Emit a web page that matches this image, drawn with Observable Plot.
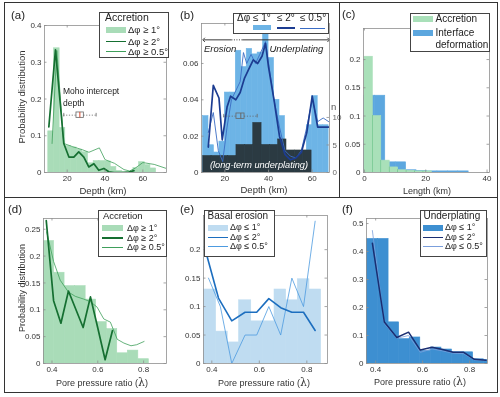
<!DOCTYPE html>
<html><head><meta charset="utf-8">
<script src="https://cdn.jsdelivr.net/npm/d3@7"></script>
<script src="https://cdn.jsdelivr.net/npm/@observablehq/plot@0.6"></script>
<style>
html,body{margin:0;padding:0;background:#fff;}
#fig{position:relative;width:500px;height:397px;overflow:hidden;background:#fff;font-family:"Liberation Sans",Arial,Helvetica,sans-serif;color:#222;}
#fig svg{position:absolute;}
.t{position:absolute;white-space:nowrap;}
.box{position:absolute;background:#fff;border:1px solid #444;box-sizing:border-box;}
.sw{position:absolute;}
</style></head><body><div id="fig"></div>
<script>
// ================= DATA =================
// (a) Accretion: probability distribution vs depth (km)
const aEdges = [10,13,16,19,22,25,28,31,34,37,40,43,46,49,52,55,58,61,64,67,70];
const aHist  = [0.112,0.338,0.121,0.072,0.068,0.062,0.055,0.025,0.031,0.031,0.030,0.015,0.004,0.002,0.002,0.012,0.028,0.020,0.011,0.000];
const aThickX = [10.3,13.8,18.2,20.9,23.5,26.1,28.8,31.4,34.1,36.7,39.4,42,44.7,47.3,50,52.6,55.3];
const aThickY = [0.124,0.334,0.079,0.042,0.042,0.056,0.042,0.015,0.024,0.006,0.011,0.002,0,0,0,0.001,0.005];
const aThinX = [12,14.5,18.2,23,28,31.5,37,40,45,50,53,56,60,66,73];
const aThinY = [0.079,0.332,0.079,0.070,0.062,0.055,0.067,0.035,0.025,0.008,0.004,0.012,0.027,0.022,0.010];
const aMoho = [18.2,24.9,26.7,28.8,35.3];   // min, q1, median, q3, max (km)
const aMohoLevel = 0.156;
const aXTicks = [20,40,60];
const aYTicks = [0,0.1,0.2,0.3,0.4];

// (b) Basal erosion / underplating vs depth
const bEdges = [10,12.5,15,17.5,20,22.5,25,27.5,30,32.5,35,37.5,40,42.5,45,47.5,50,52.5,55,57.5,60,62.5,65,67.5];
const bHist  = [0.031,0.015,0.011,0.017,0.044,0.044,0.067,0.058,0.068,0.065,0.066,0.079,0.063,0.040,0.031,0.009,0.010,0.007,0.012,0.026,0.042,0.026,0.026];
const bNEdges = [10.1,13.9,17.7,21.5,25.3,29.2,33.0,36.8,40.6,44.4,48.2,52.0,55.9,59.7];
const bN      = [3,3,3,3,5,5,9,5,5,6,4,4,4];
const bThickX = [12.4,14.7,17.3,18.8,21,22.6,25,27,29,31,33,35,37,38.6,40,42.5,45,47.5,50,52.5,55,57.5,60,62.5,65,67.5];
const bThickY = [0.014,0.048,0.041,0.018,0.036,0.042,0.040,0.044,0.052,0.057,0.062,0.060,0.064,0.071,0.058,0.040,0.020,0.010,0.007,0.008,0.011,0.022,0.042,0.025,0.025,0.025];
const bThinX = [12.4,14.7,17,19,21,23,25,27,28.5,30,32,34,36,38.6,40,42.5,45,47.5,50,52.5,55,57.5,60,62.5,65,67.5];
const bThinY = [0.022,0.033,0.012,0.006,0.025,0.040,0.045,0.050,0.066,0.060,0.065,0.060,0.065,0.072,0.060,0.040,0.025,0.012,0.009,0.008,0.012,0.025,0.040,0.028,0.030,0.028];
const bMoho = [19.5,25.3,27.3,29.0,34.8];
const bMohoLevel = 0.031;
const bArrow = {start:10.3, dotFrom:23, dotTo:28, end:67.5, level:0.073};
const bXTicks = [20,40,60];
const bYTicks = [0,0.02,0.04,0.06];
const bNTicks = [0,5,10];

// (c) Length distributions
const cGreenEdges = [0,2.75,5.5,8.25,11,13.75,16.5,19.25,22];
const cGreen      = [0.205,0.100,0.021,0.009,0.004,0.003,0.002,0.002];
const cBlueEdges  = [0,3.4,6.8,10.2,13.6,17,20.4,23.8,27.2,30.6,34];
const cBlue       = [0.136,0.136,0.018,0.018,0.004,0.003,0.002,0.002,0.002,0.002];
const cXTicks = [0,20,40];
const cYTicks = [0,0.05,0.1,0.15,0.2];

// (d) Accretion vs pore pressure ratio
const dEdges = [0.363,0.409,0.455,0.501,0.547,0.593,0.639,0.685,0.731,0.777,0.823];
const dHist  = [0.228,0.169,0.144,0.144,0.119,0.077,0.064,0.019,0.024,0.008];
const dThickX = [0.375,0.407,0.439,0.472,0.504,0.536,0.568,0.600,0.632,0.664];
const dThickY = [0.266,0.117,0.075,0.135,0.101,0.067,0.124,0.066,0.007,0.061];
const dThinX = [0.377,0.407,0.436,0.472,0.502,0.538,0.568,0.597,0.626,0.655,0.685,0.714,0.745,0.770,0.802];
const dThinY = [0.245,0.190,0.155,0.133,0.125,0.120,0.115,0.105,0.083,0.077,0.045,0.038,0.033,0.035,0.041];
const dYTicks = [0,0.05,0.1,0.15,0.2,0.25];

// (e) Basal erosion vs pore pressure ratio
const eEdges = [0.365,0.418,0.467,0.515,0.566,0.615,0.664,0.713,0.762,0.811,0.860];
const eHist  = [0.130,0.056,0.037,0.111,0.074,0.074,0.130,0.111,0.148,0.130];
const eThickX = [0.369,0.428,0.484,0.540,0.589,0.640,0.690,0.737,0.786,0.835];
const eThickY = [0.205,0.115,0.075,0.090,0.090,0.114,0.098,0.090,0.090,0.058];
const eThinX = [0.386,0.436,0.484,0.540,0.589,0.640,0.690,0.737,0.786,0.835];
const eThinY = [0.150,0.100,0.000,0.050,0.050,0.100,0.050,0.150,0.100,0.250];
const eYTicks = [0,0.05,0.1,0.15,0.2];

// (f) Underplating vs pore pressure ratio
const fEdges = [0.361,0.41,0.455,0.5,0.545,0.59,0.635,0.68,0.725,0.77,0.815,0.86,0.905];
const fHist  = [0.445,0.445,0.147,0.087,0.093,0.045,0.057,0.050,0.040,0.040,0.015,0.012];
const fThickX = [0.386,0.437,0.490,0.540,0.590,0.640,0.685,0.730,0.775,0.820,0.870];
const fThickY = [0.430,0.148,0.093,0.112,0.048,0.058,0.050,0.040,0.040,0.015,0.012];
const fThinX = [0.386,0.437,0.490,0.540,0.590,0.640,0.685,0.730,0.775,0.820,0.870];
const fThinY = [0.475,0.143,0.090,0.100,0.040,0.052,0.045,0.037,0.035,0.013,0.010];
const fYTicks = [0,0.1,0.2,0.3,0.4,0.5];
const lamTicks = [0.4,0.6,0.8];

// ================= STYLE =================
const FONT = '"Liberation Sans", Arial, Helvetica, sans-serif';
const AX = "#8f8f8f";
const C = {
  gBar:"#a9dcb8", gDark:"#156f31", gThin:"#3f9f5b",
  bBar:"#6db4e6", bDark:"#2b3a42", bNavy:"#1c3c91", bThin:"#3a6cc4",
  cBlue:"#5ca7df", cGreen:"#a9e0b9",
  eBar:"#bfdcf1", eThick:"#1c6ebf", eThin:"#4d9be0",
  fBar:"#3d8fd1", fThick:"#1a2e72", fThin:"#7b9fdc"
};

// ================= HELPERS =================
const fig = document.getElementById("fig");
const bins = (edges, vals) => vals.map((v,i) => ({x1:edges[i], x2:edges[i+1], y:v}));
const pts = (xs, ys) => xs.map((x,i) => ({x, y:ys[i]}));
const fmt = d => String(d);
const barStyle = c => ({fill:c, stroke:c, strokeWidth:0.6, clip:true});

function txt(s, x, y, o = {}) {
  const size = o.size || 9;
  const d = document.createElement("div");
  d.className = "t";
  d.innerHTML = s;
  d.style.fontSize = size + "px";
  d.style.lineHeight = (size*1.2) + "px";
  d.style.left = x + "px";
  d.style.top = (y - size*0.6) + "px";
  if (o.anchor === "middle") d.style.transform = "translateX(-50%)";
  if (o.rotate) { d.style.top = y + "px"; d.style.transform = "translate(-50%,-50%) rotate(-90deg)"; }
  if (o.italic) d.style.fontStyle = "italic";
  if (o.color) d.style.color = o.color;
  fig.appendChild(d);
}
function box(l,t,w,h,border) {
  const d = document.createElement("div");
  d.className = "box";
  Object.assign(d.style, {left:l+"px", top:t+"px", width:w+"px", height:h+"px"});
  if (border) { d.style.border = border; d.style.background = "transparent"; }
  fig.appendChild(d);
}
function swRect(l,t,w,h,c) {
  const d = document.createElement("div");
  d.className = "sw";
  Object.assign(d.style, {left:l+"px", top:t+"px", width:w+"px", height:h+"px", background:c});
  fig.appendChild(d);
}
function swLine(x1,x2,y,c,lw) { swRect(x1, y - lw/2, x2 - x1, lw, c); }
function hline(x1,x2,y){ swRect(x1, y, x2-x1, 1, "#333"); }
function vline(x,y1,y2){ swRect(x, y1, 1, y2-y1, "#333"); }

function boxMarks(s, level, hh, ch, medColor) {
  const o = {min:s[0], q1:s[1], med:s[2], q3:s[3], max:s[4], y:level, lo:level-hh, hi:level+hh, clo:level-ch, chi:level+ch};
  const st = {stroke:"#666", strokeWidth:0.8};
  return [
    Plot.ruleY([o], {x1:"min", x2:"q1", y:"y", ...st, strokeDasharray:"1.2,1.6"}),
    Plot.ruleY([o], {x1:"q3", x2:"max", y:"y", ...st, strokeDasharray:"1.2,1.6"}),
    Plot.ruleX([o], {x:"min", y1:"clo", y2:"chi", ...st}),
    Plot.ruleX([o], {x:"max", y1:"clo", y2:"chi", ...st}),
    Plot.rect([o], {x1:"q1", x2:"q3", y1:"lo", y2:"hi", fill:"none", ...st}),
    Plot.ruleX([o], {x:"med", y1:"lo", y2:"hi", stroke:medColor, strokeWidth:1})
  ];
}

const ML = 34, MT = 6, MB = 18;
function panel(p) {
  const [L,T,R,B] = p.box;
  const mr = p.mr ?? 8;
  const w = R - L, h = B - T;
  const [x0,x1] = p.x, [y0,y1] = p.y;
  const ux = (x1-x0)/w, uy = (y1-y0)/h;   // data units per pixel
  const tl = 2.5;
  const yTicksRight = p.yTicksRight ?? p.yt;
  const marks = [
    ...p.marks(ux, uy),
    Plot.frame({stroke:AX, strokeWidth:0.8}),
    Plot.ruleX(p.xt, {x:d=>d, y1:y0, y2:y0+tl*uy, stroke:AX, strokeWidth:0.8}),
    Plot.ruleX(p.xt, {x:d=>d, y1:y1, y2:y1-tl*uy, stroke:AX, strokeWidth:0.8}),
    Plot.ruleY(p.yt, {y:d=>d, x1:x0, x2:x0+tl*ux, stroke:AX, strokeWidth:0.8}),
    Plot.ruleY(yTicksRight, {y:d=>d, x1:x1, x2:x1-tl*ux, stroke:AX, strokeWidth:0.8}),
    Plot.axisX({ticks:p.xt, tickSize:0, tickPadding:3, tickFormat:fmt, label:null}),
    Plot.axisY({ticks:p.yt, tickSize:0, tickPadding:3, tickFormat:fmt, label:null}),
    ...(p.extra ? p.extra(ux, uy) : [])
  ];
  const svg = Plot.plot({
    width: ML + w + mr, height: MT + h + MB,
    marginLeft: ML, marginRight: mr, marginTop: MT, marginBottom: MB,
    x: {domain: p.x}, y: {domain: p.y},
    style: {fontFamily: FONT, fontSize: "8px", color: "#333", background: "transparent", overflow: "visible"},
    marks
  });
  svg.style.left = (L - ML) + "px";
  svg.style.top = (T - MT) + "px";
  fig.appendChild(svg);
}

// ================= PANELS =================
// (a)
panel({
  box:[44,25,166,172], x:[8,72.5], y:[0,0.4], xt:aXTicks, yt:aYTicks,
  marks:(ux,uy) => [
    Plot.rectY(bins(aEdges,aHist), {x1:"x1", x2:"x2", y:"y", ...barStyle(C.gBar)}),
    Plot.line(pts(aThinX,aThinY), {x:"x", y:"y", stroke:C.gThin, strokeWidth:0.8, clip:true}),
    Plot.line(pts(aThickX,aThickY), {x:"x", y:"y", stroke:C.gDark, strokeWidth:1.7, clip:true}),
    ...boxMarks(aMoho, aMohoLevel, 2.7*uy, 1.8*uy, "#d9452b")
  ]
});

// (b)
const NK = 0.00303; // y-units per count on the right-hand n axis
panel({
  box:[201,23,329,172], x:[9.3,67.9], y:[0,0.082], xt:bXTicks, yt:bYTicks, mr:14,
  yTicksRight: bNTicks.map(n => n*NK),
  marks:(ux,uy) => [
    Plot.rectY(bins(bEdges,bHist), {x1:"x1", x2:"x2", y:"y", ...barStyle(C.bBar)}),
    Plot.rectY(bins(bNEdges,bN), {x1:"x1", x2:"x2", y:d => d.y*NK, ...barStyle(C.bDark)}),
    Plot.line(pts(bThinX,bThinY), {x:"x", y:"y", stroke:C.bThin, strokeWidth:0.9, clip:true}),
    Plot.line(pts(bThickX,bThickY), {x:"x", y:"y", stroke:C.bNavy, strokeWidth:1.7, clip:true}),
    ...boxMarks(bMoho, bMohoLevel, 2.7*uy, 1.8*uy, "#666"),
    Plot.link([bArrow], {x1:"dotFrom", x2:"start", y1:"level", y2:"level", stroke:"#222", strokeWidth:0.9, markerEnd:"arrow"}),
    Plot.link([bArrow], {x1:"dotTo", x2:"end", y1:"level", y2:"level", stroke:"#222", strokeWidth:0.9, markerEnd:"arrow"}),
    Plot.link([bArrow], {x1:"dotFrom", x2:"dotTo", y1:"level", y2:"level", stroke:"#222", strokeWidth:0.9, strokeDasharray:"1,1.5"})
  ],
  extra:() => [
    Plot.axisY({anchor:"right", ticks:bNTicks.map(n => n*NK), tickFormat:v => String(Math.round(v/NK)), tickSize:0, tickPadding:3, label:null, fill:"#666"})
  ]
});

// (c)
panel({
  box:[363,28,489,172], x:[-0.3,40.8], y:[0,0.255], xt:cXTicks, yt:cYTicks,
  marks:() => [
    Plot.rectY(bins(cBlueEdges,cBlue), {x1:"x1", x2:"x2", y:"y", ...barStyle(C.cBlue)}),
    Plot.rectY(bins(cGreenEdges,cGreen), {x1:"x1", x2:"x2", y:"y", ...barStyle(C.cGreen), mixBlendMode:"multiply"})
  ]
});

// (d)
panel({
  box:[43,218,166,363], x:[0.363,0.9], y:[0,0.27], xt:lamTicks, yt:dYTicks,
  marks:() => [
    Plot.rectY(bins(dEdges,dHist), {x1:"x1", x2:"x2", y:"y", ...barStyle(C.gBar)}),
    Plot.line(pts(dThinX,dThinY), {x:"x", y:"y", stroke:C.gThin, strokeWidth:0.8, clip:true}),
    Plot.line(pts(dThickX,dThickY), {x:"x", y:"y", stroke:C.gDark, strokeWidth:1.7, clip:true})
  ]
});

// (e)
panel({
  box:[203,215,327,363], x:[0.365,0.887], y:[0,0.26], xt:lamTicks, yt:eYTicks,
  marks:() => [
    Plot.rectY(bins(eEdges,eHist), {x1:"x1", x2:"x2", y:"y", ...barStyle(C.eBar)}),
    Plot.line(pts(eThinX,eThinY), {x:"x", y:"y", stroke:C.eThin, strokeWidth:0.8, clip:true}),
    Plot.line(pts(eThickX,eThickY), {x:"x", y:"y", stroke:C.eThick, strokeWidth:1.6, clip:true})
  ]
});

// (f)
panel({
  box:[366,218,487,363], x:[0.361,0.876], y:[0,0.518], xt:lamTicks, yt:fYTicks,
  marks:() => [
    Plot.rectY(bins(fEdges,fHist), {x1:"x1", x2:"x2", y:"y", ...barStyle(C.fBar)}),
    Plot.line(pts(fThinX,fThinY), {x:"x", y:"y", stroke:C.fThin, strokeWidth:0.8, clip:true}),
    Plot.line(pts(fThickX,fThickY), {x:"x", y:"y", stroke:C.fThick, strokeWidth:1.5, clip:true})
  ]
});

// ================= FRAMES =================
box(4,2,494,391,"1px solid #333");
hline(4,497,197);
vline(339,2,197);

// ================= TEXT, LEGENDS =================
const lam = '(<span style="font-family:\'DejaVu Serif\',serif;font-size:11px">λ</span>)';
// panel labels
txt("(a)",11,16,{size:11.5}); txt("(b)",180,16,{size:11.5}); txt("(c)",342,15,{size:11.5});
txt("(d)",8,210,{size:11.5}); txt("(e)",180,210,{size:11.5}); txt("(f)",342,210,{size:11.5});
// axis labels
txt("Depth (km)",103,191,{size:9.5,anchor:"middle",color:"#333"});
txt("Probability distribution",22,97,{size:9.5,rotate:true,color:"#333"});
txt("Depth (km)",264,190,{size:9.5,anchor:"middle",color:"#333"});
txt("n",331,107,{size:9.5,color:"#555"});
txt("Length (km)",427,191,{size:9,anchor:"middle",color:"#333"});
txt("Pore pressure ratio "+lam,102,383,{size:9,anchor:"middle",color:"#333"});
txt("Probability distribution",22,288,{size:9,rotate:true,color:"#333"});
txt("Pore pressure ratio "+lam,264,383,{size:9,anchor:"middle",color:"#333"});
txt("Pore pressure ratio "+lam,420,382,{size:9,anchor:"middle",color:"#333"});
// (a) annotations
txt("Moho intercept",63,91.5,{size:8.5,color:"#222"});
txt("depth",63,103,{size:8.5,color:"#222"});
// (b) annotations
txt("Erosion",204,48.5,{size:9.5,italic:true});
txt("Underplating",269.5,48.5,{size:9.5,italic:true});
txt("(long-term underplating)",259,165.5,{size:9.2,italic:true,anchor:"middle",color:"#fff"});

// (a) legend
box(99,12,70,46);
txt("Accretion",105,17,{size:10.5});
swRect(106,27,20,6,C.gBar); txt("Δφ ≥ 1°",128,30,{size:9.5});
swLine(106,126,41.5,C.gDark,1.8); txt("Δφ ≥ 2°",128,41.5,{size:9.5});
swLine(106,126,51.5,C.gThin,0.9); txt("Δφ ≥ 0.5°",128,51.5,{size:9.5});
// (b) legend
box(233,13,96,21);
txt("Δφ",237,18,{size:10}); txt("≤ 1°",253,18,{size:10}); txt("≤ 2°",277,18,{size:10}); txt("≤ 0.5°",300,18,{size:10});
swRect(253,24.5,18,5,C.bBar); swLine(277,295,28,C.bNavy,1.8); swLine(300,325,28,C.bThin,0.9);
// (c) legend
box(410,13,80,39);
swRect(413,16,20,6,C.cGreen); txt("Accretion",435.5,19,{size:10});
swRect(413,30,20,6,C.cBlue); txt("Interface",435.5,33,{size:10}); txt("deformation",435.5,45,{size:10});
// (d) legend
box(98,210,69,47);
txt("Accretion",103,216,{size:9.5});
swRect(102,225,21,6,C.gBar); txt("Δφ ≥ 1°",127,228,{size:9});
swLine(102,123,238,C.gDark,1.8); txt("Δφ ≥ 2°",127,238,{size:9});
swLine(102,123,247,C.gThin,0.9); txt("Δφ ≥ 0.5°",127,247,{size:9});
// (e) legend
box(204,210,71,47);
txt("Basal erosion",207.5,216,{size:10});
swRect(208,224.5,20,6,C.eBar); txt("Δφ ≤ 1°",230,227.5,{size:9});
swLine(208,228,237.5,C.eThick,1.6); txt("Δφ ≤ 2°",230,237.5,{size:9});
swLine(208,228,246.5,C.eThin,0.9); txt("Δφ ≤ 0.5°",230,246.5,{size:9});
// (f) legend
box(420,210,67,47);
txt("Underplating",423.5,216,{size:10});
swRect(423,224.5,20,6,C.fBar); txt("Δφ ≤ 1°",445,227.5,{size:9});
swLine(423,443,237.5,C.fThick,1.6); txt("Δφ ≤ 2°",445,237.5,{size:9});
swLine(423,443,246.5,C.fThin,0.9); txt("Δφ ≤ 0.5°",445,246.5,{size:9});
</script>
</body></html>
